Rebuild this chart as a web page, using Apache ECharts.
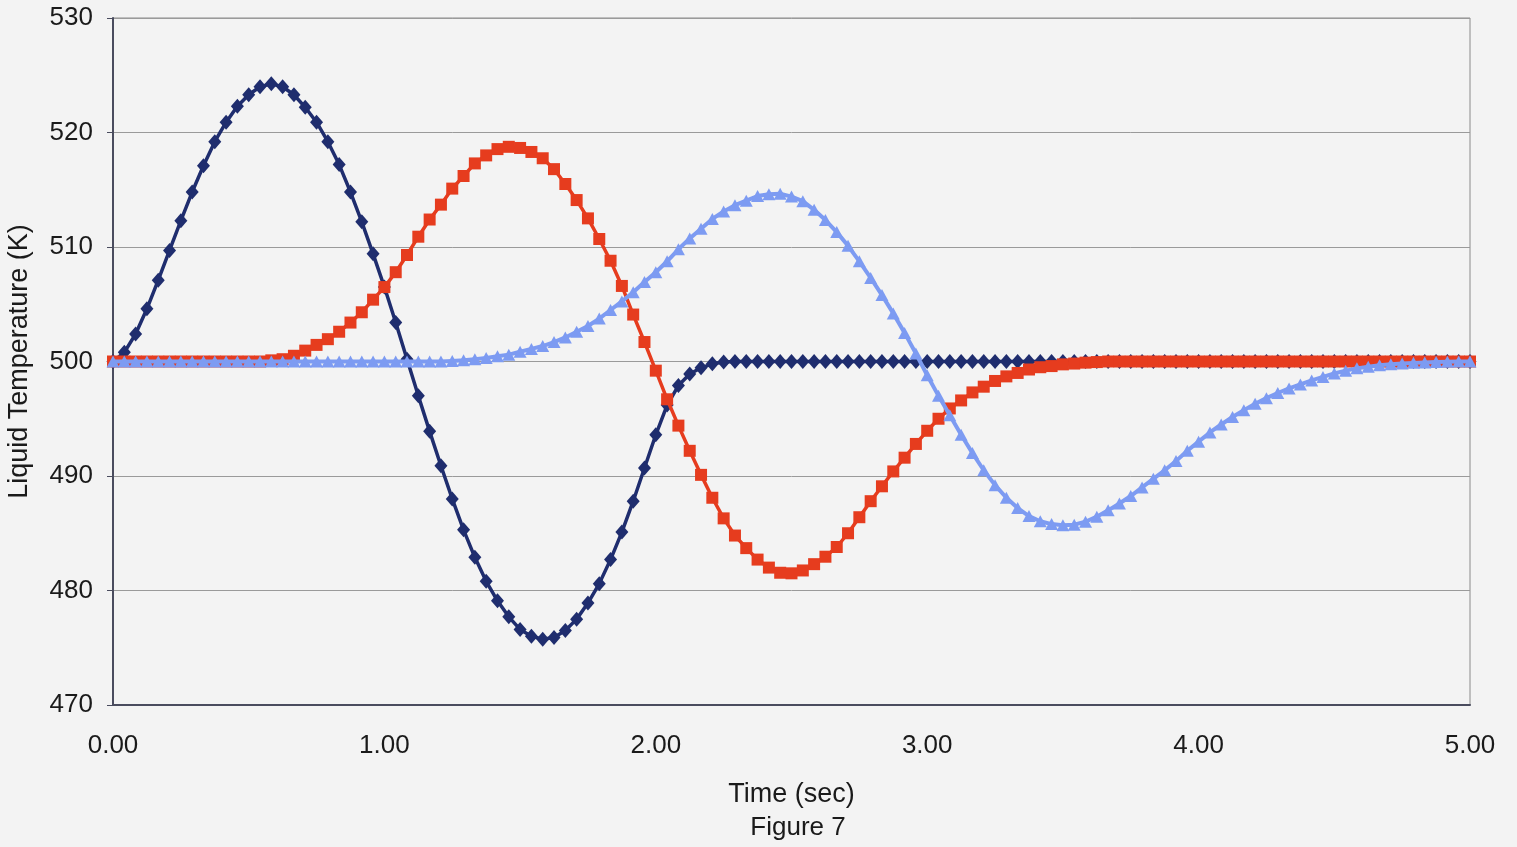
<!DOCTYPE html>
<html>
<head>
<meta charset="utf-8">
<title>Liquid Temperature</title>
<script src="https://cdn.jsdelivr.net/npm/echarts@6/dist/echarts.min.js"></script>
<style>
  html, body { margin: 0; padding: 0; background: #f3f3f3; }
  #chart { width: 1517px; height: 847px; }
</style>
</head>
<body>
<div id="chart"></div>
<script>
// Sample times (sec)
const time = [
  0, 0.0417, 0.0833, 0.125, 0.1667, 0.2083, 0.25, 0.2917, 0.3333, 0.375, 0.4167, 0.4583,
  0.5, 0.5417, 0.5833, 0.625, 0.6667, 0.7083, 0.75, 0.7917, 0.8333, 0.875, 0.9167, 0.9583,
  1, 1.0417, 1.0833, 1.125, 1.1667, 1.2083, 1.25, 1.2917, 1.3333, 1.375, 1.4167, 1.4583,
  1.5, 1.5417, 1.5833, 1.625, 1.6667, 1.7083, 1.75, 1.7917, 1.8333, 1.875, 1.9167, 1.9583,
  2, 2.0417, 2.0833, 2.125, 2.1667, 2.2083, 2.25, 2.2917, 2.3333, 2.375, 2.4167, 2.4583,
  2.5, 2.5417, 2.5833, 2.625, 2.6667, 2.7083, 2.75, 2.7917, 2.8333, 2.875, 2.9167, 2.9583,
  3, 3.0417, 3.0833, 3.125, 3.1667, 3.2083, 3.25, 3.2917, 3.3333, 3.375, 3.4167, 3.4583,
  3.5, 3.5417, 3.5833, 3.625, 3.6667, 3.7083, 3.75, 3.7917, 3.8333, 3.875, 3.9167, 3.9583,
  4, 4.0417, 4.0833, 4.125, 4.1667, 4.2083, 4.25, 4.2917, 4.3333, 4.375, 4.4167, 4.4583,
  4.5, 4.5417, 4.5833, 4.625, 4.6667, 4.7083, 4.75, 4.7917, 4.8333, 4.875, 4.9167, 4.9583,
  5
];

// Liquid temperature (K), first node
const tempNode1 = [
  500.0, 500.8, 502.4, 504.6, 507.1, 509.7, 512.3, 514.8, 517.1, 519.2,
  520.9, 522.3, 523.3, 524.0, 524.25, 524.0, 523.3, 522.2, 520.9, 519.2,
  517.2, 514.8, 512.2, 509.4, 506.5, 503.4, 500.2, 497.0, 493.9, 490.9,
  488.0, 485.3, 482.9, 480.8, 479.1, 477.7, 476.6, 476.0, 475.75, 475.9,
  476.5, 477.5, 478.9, 480.6, 482.7, 485.1, 487.8, 490.7, 493.6, 496.2,
  497.9, 498.9, 499.45, 499.8, 499.95, 500, 500, 500, 500, 500,
  500, 500, 500, 500, 500, 500, 500, 500, 500, 500,
  500, 500, 500, 500, 500, 500, 500, 500, 500, 500,
  500, 500, 500, 500, 500, 500, 500, 500, 500, 500,
  500, 500, 500, 500, 500, 500, 500, 500, 500, 500,
  500, 500, 500, 500, 500, 500, 500, 500, 500, 500,
  500, 500, 500, 500, 500, 500, 500, 500, 500, 500,
  500
];

// Liquid temperature (K), second node
const tempNode2 = [
  500, 500, 500, 500, 500, 500, 500, 500, 500, 500,
  500, 500, 500, 500, 500.1, 500.2, 500.5, 500.95, 501.45, 501.95,
  502.6, 503.4, 504.3, 505.4, 506.5, 507.8, 509.3, 510.9, 512.4, 513.7,
  515.1, 516.2, 517.3, 518.0, 518.55, 518.75, 518.65, 518.3, 517.75, 516.8,
  515.5, 514.1, 512.5, 510.7, 508.8, 506.6, 504.1, 501.7, 499.2, 496.7,
  494.4, 492.2, 490.1, 488.1, 486.3, 484.8, 483.7, 482.7, 482.0, 481.55,
  481.5, 481.75, 482.3, 482.95, 483.8, 485.0, 486.4, 487.8, 489.1, 490.4,
  491.6, 492.8, 493.95, 495.0, 495.9, 496.6, 497.3, 497.8, 498.3, 498.7,
  499.0, 499.3, 499.5, 499.6, 499.75, 499.82, 499.9, 499.95, 500, 500,
  500, 500, 500, 500, 500, 500, 500, 500, 500, 500,
  500, 500, 500, 500, 500, 500, 500, 500, 500, 500,
  500, 500, 500, 500, 500, 500, 500, 500, 500, 500,
  500
];

// Liquid temperature (K), third node
const tempNode3 = [
  500, 500, 500, 500, 500, 500, 500, 500, 500, 500,
  500, 500, 500, 500, 500, 500, 500, 500, 500, 500,
  500, 500, 500, 500, 500, 500, 500, 500, 500, 500,
  500.05, 500.1, 500.2, 500.3, 500.45, 500.6, 500.85, 501.1, 501.35, 501.7,
  502.1, 502.6, 503.1, 503.75, 504.5, 505.25, 506.05, 506.95, 507.8, 508.75,
  509.8, 510.75, 511.6, 512.45, 513.1, 513.65, 514.05, 514.45, 514.6, 514.65,
  514.4, 514.0, 513.25, 512.35, 511.3, 510.1, 508.75, 507.3, 505.8, 504.2,
  502.5, 500.7, 498.8, 497.0, 495.3, 493.6, 492.0, 490.5, 489.2, 488.1,
  487.2, 486.5, 486.05, 485.8, 485.7, 485.75, 486.0, 486.45, 487.0, 487.6,
  488.25, 489.0, 489.75, 490.5, 491.3, 492.2, 493.0, 493.8, 494.5, 495.15,
  495.75, 496.3, 496.8, 497.25, 497.65, 498.0, 498.35, 498.65, 498.95, 499.2,
  499.4, 499.55, 499.67, 499.76, 499.83, 499.88, 499.92, 499.95, 499.97, 499.99,
  500
];

// Axis ticks
const timeTicks = [0, 1, 2, 3, 4, 5];
const tempTicks = [470, 480, 490, 500, 510, 520, 530];

const FONT = '"Liberation Sans", Arial, sans-serif';
const TEXT = '#1a1a1a';

function pairs(values) {
  return values.map((v, i) => [time[i], v]);
}

const chart = echarts.init(document.getElementById('chart'), null, { renderer: 'canvas' });

chart.setOption({
  animation: false,
  backgroundColor: '#f3f3f3',
  title: {
    text: 'Figure 7',
    left: 793,
    top: 810,
    textAlign: 'center',
    textStyle: { fontFamily: FONT, fontSize: 26, fontWeight: 'normal', color: TEXT }
  },
  grid: {
    left: 113, right: 47, top: 18, bottom: 142,
    outerBoundsMode: 'none',
    containLabel: false,
    show: true, borderColor: '#8a8a8a', borderWidth: 1, backgroundColor: 'transparent'
  },
  xAxis: {
    type: 'value',
    min: timeTicks[0],
    max: timeTicks[timeTicks.length - 1],
    interval: 1,
    name: 'Time (sec)',
    nameLocation: 'middle',
    nameGap: 76,
    nameTextStyle: { fontFamily: FONT, fontSize: 27, color: TEXT },
    axisLine: { show: true, lineStyle: { color: '#4a4c5e', width: 2 } },
    axisTick: { show: false },
    axisLabel: {
      margin: 28,
      fontFamily: FONT, fontSize: 26, color: TEXT,
      formatter: v => v.toFixed(2)
    },
    splitLine: { show: false }
  },
  yAxis: {
    type: 'value',
    min: tempTicks[0],
    max: tempTicks[tempTicks.length - 1],
    interval: 10,
    name: 'Liquid Temperature (K)',
    nameLocation: 'middle',
    nameGap: 80,
    nameTextStyle: { fontFamily: FONT, fontSize: 27, color: TEXT },
    axisLine: { show: true, lineStyle: { color: '#4a4c5e', width: 2 } },
    axisTick: { show: true, length: 6, lineStyle: { color: '#4a4c5e', width: 1 } },
    axisLabel: { margin: 20, fontFamily: FONT, fontSize: 26, color: TEXT },
    splitLine: { show: true, lineStyle: { color: '#9a9a9a', width: 1 } }
  },
  series: [
    {
      name: 'Node 1',
      type: 'line',
      data: pairs(tempNode1),
      symbol: 'diamond',
      symbolSize: [13, 15],
      showAllSymbol: true,
      lineStyle: { color: '#1f2d6e', width: 3.5 },
      itemStyle: { color: '#1f2d6e', borderWidth: 0 },
      z: 2
    },
    {
      name: 'Node 2',
      type: 'line',
      data: pairs(tempNode2),
      symbol: 'rect',
      symbolSize: 12,
      showAllSymbol: true,
      lineStyle: { color: '#e63c1e', width: 3.5 },
      itemStyle: { color: '#e63c1e', borderWidth: 0 },
      z: 3
    },
    {
      name: 'Node 3',
      type: 'line',
      data: pairs(tempNode3),
      symbol: 'triangle',
      symbolSize: [13, 12],
      showAllSymbol: true,
      lineStyle: { color: '#7d9bf2', width: 4 },
      itemStyle: { color: '#7d9bf2', borderWidth: 0 },
      z: 4
    }
  ]
});
</script>
</body>
</html>
